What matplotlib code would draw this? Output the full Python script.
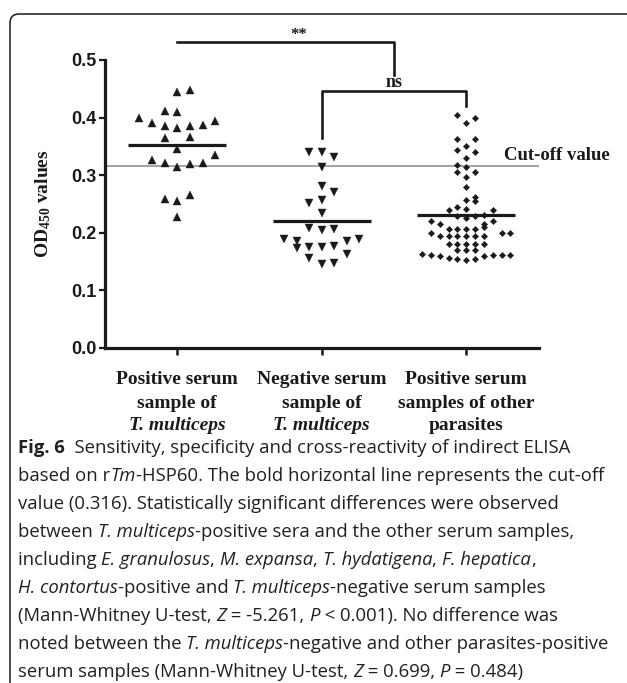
import numpy as np
import matplotlib
matplotlib.use('Agg')
import matplotlib.pyplot as plt
from matplotlib.patches import FancyBboxPatch
from matplotlib.transforms import blended_transform_factory, IdentityTransform

plt.rcParams['mathtext.fontset'] = 'custom'
plt.rcParams['mathtext.rm'] = 'Liberation Serif:bold'
plt.rcParams['mathtext.bf'] = 'Liberation Serif:bold'
plt.rcParams['mathtext.it'] = 'Liberation Serif:bold:italic'

# ---------------- data ----------------
cat_lines = [["Positive serum", "sample of", "T. multiceps"],
             ["Negative serum", "sample of", "T. multiceps"],
             ["Positive serum", "samples of other", "parasites"]]
cat_italic_last = [True, True, False]

g1_values = [0.444, 0.448, 0.411, 0.409, 0.399, 0.390, 0.386, 0.382, 0.386, 0.387,
             0.394, 0.365, 0.367, 0.345, 0.326, 0.321, 0.314, 0.319, 0.322, 0.335,
             0.259, 0.256, 0.266, 0.227]
g1_cols = [0, 1, -1, 0, -3, -2, -1, 0, 1, 2, 3, -1, 1, 0, -2, -1, 0, 1, 2, 3, -1, 0, 1, 0]

g2_values = [0.341, 0.341, 0.332, 0.315, 0.281, 0.271, 0.252, 0.257, 0.235, 0.208,
             0.204, 0.206, 0.189, 0.185, 0.173, 0.176, 0.176, 0.177, 0.186, 0.190,
             0.164, 0.157, 0.146, 0.148]
g2_cols = [-1, 0, 1, 0, 0, 1, -1, 0, 0, -1, 0, 1, -3, -2, -2, -1, 0, 1, 2, 3, 2, -1, 0, 1]

g3_values = [0.405, 0.399, 0.390, 0.362, 0.362, 0.351, 0.343, 0.341, 0.329, 0.318,
             0.314, 0.306, 0.306, 0.297, 0.280, 0.257, 0.262, 0.255,
             0.240, 0.245, 0.242, 0.240,
             0.229, 0.225, 0.229, 0.231,
             0.220, 0.215, 0.215, 0.220,
             0.206, 0.206, 0.206, 0.206, 0.210,
             0.200, 0.200, 0.200,
             0.194, 0.194, 0.194, 0.194, 0.194, 0.194,
             0.181, 0.181, 0.181, 0.181, 0.181,
             0.171, 0.171, 0.171,
             0.163, 0.161, 0.159, 0.157, 0.154, 0.153, 0.154, 0.160, 0.161, 0.161, 0.161]
g3_cols = [-1, 1, 0, -1, 1, 0, -1, 1, 0, -1,
           0, -1, 1, 0, 0, 0, 1, 1,
           -2, -1, 0, 3,
           -1, 0, 1, 2,
           -4, -3, 2, 3,
           -2, -1, 0, 1, 2,
           -4, 4, 5,
           -3, -2, -1, 0, 1, 2,
           -2, -1, 0, 1, 2,
           -1, 0, 1,
           -5, -4, -3, -2, -1, 0, 1, 2, 3, 4, 5]

cutoff = 0.316
y_ticks = [0.0, 0.1, 0.2, 0.3, 0.4, 0.5]

caption = [
    [("Fig. 6", 'b'), ("  Sensitivity, specificity and cross-reactivity of indirect ELISA", 'r')],
    [("based on r", 'r'), ("Tm", 'i'), ("-HSP60. The bold horizontal line represents the cut-off", 'r')],
    [("value (0.316). Statistically significant differences were observed", 'r')],
    [("between ", 'r'), ("T. multiceps", 'i'), ("-positive sera and the other serum samples,", 'r')],
    [("including ", 'r'), ("E. granulosus", 'i'), (", ", 'r'), ("M. expansa", 'i'), (", ", 'r'),
     ("T. hydatigena", 'i'), (", ", 'r'), ("F. hepatica", 'i'), (",", 'r')],
    [("H. contortus", 'i'), ("-positive and ", 'r'), ("T. multiceps", 'i'), ("-negative serum samples", 'r')],
    [("(Mann-Whitney U-test, ", 'r'), ("Z", 'i'), (" = -5.261, ", 'r'), ("P", 'i'),
     (" < 0.001). No difference was", 'r')],
    [("noted between the ", 'r'), ("T. multiceps", 'i'), ("-negative and other parasites-positive", 'r')],
    [("serum samples (Mann-Whitney U-test, ", 'r'), ("Z", 'i'), (" = 0.699, ", 'r'), ("P", 'i'),
     (" = 0.484)", 'r')],
]

# ---------------- figure ----------------
W, H = 627, 683
fig = plt.figure(figsize=(W / 100, H / 100), dpi=100)
ax = fig.add_axes([105 / W, (H - 348) / H, (538.5 - 105) / W, (348 - 60) / H])

ink = '#1a1a1a'
groups = [(g1_values, g1_cols, '^', 6.2, 0.088),
          (g2_values, g2_cols, 'v', 6.2, 0.087),
          (g3_values, g3_cols, 'D', 3.2, 0.061)]
for i, (vals, cols, mk, ms, step) in enumerate(groups):
    xpos = (i + 1) + np.array(cols) * step
    ax.plot(xpos, vals, linestyle='none', marker=mk, markersize=ms,
            color=ink, markeredgewidth=0.3, clip_on=False, zorder=3)
    m = np.mean(vals)
    ax.plot([i + 1 - 0.34, i + 1 + 0.34], [m, m], color=ink, lw=2.3, zorder=4,
            solid_capstyle='butt')

ax.axhline(cutoff, xmin=0, xmax=1, color='#8a8a8a', lw=1.1, zorder=2)

ax.set_xlim(0.5, 3.5)
ax.set_ylim(0, 0.5)
ax.set_yticks(y_ticks)
ax.set_yticklabels([f"{v:.1f}" for v in y_ticks])
ax.set_xticks([1, 2, 3])
ax.set_xticklabels(['', '', ''])
for s in ['top', 'right']:
    ax.spines[s].set_visible(False)
for s in ['left', 'bottom']:
    ax.spines[s].set_linewidth(2.3)
    ax.spines[s].set_color(ink)
ax.tick_params(axis='y', direction='out', length=4, width=1.6, pad=2, colors=ink)
ax.tick_params(axis='x', direction='out', length=5, width=1.8, colors=ink)
for lab in ax.get_yticklabels():
    lab.set_fontfamily('Liberation Sans')
    lab.set_fontweight('bold')
    lab.set_fontsize(13)

# category labels
xt = blended_transform_factory(ax.transData, ax.transAxes)
offs = [32, 55, 78]
for i, lines in enumerate(cat_lines):
    for j, line in enumerate(lines):
        style = 'italic' if (j == 2 and cat_italic_last[i]) else 'normal'
        ax.annotate(line, xy=(i + 1, 0), xycoords=xt, xytext=(0, -offs[j]),
                    textcoords='offset pixels', ha='center', va='center',
                    fontfamily='Liberation Serif', fontweight='bold', fontstyle=style,
                    fontsize=14, color=ink, annotation_clip=False)

# significance brackets
ax.plot([1, 2.5, 2.5], [0.531, 0.531, 0.474], color=ink, lw=1.9, clip_on=False)
ax.plot([2, 2, 3, 3], [0.365, 0.446, 0.446, 0.420], color=ink, lw=1.9, clip_on=False)
ax.text(1.84, 0.530, '**', ha='center', va='bottom', fontfamily='Liberation Serif',
        fontweight='bold', fontsize=12, color=ink, clip_on=False)
ax.text(2.5, 0.446, 'ns', ha='center', va='bottom', fontfamily='Liberation Serif',
        fontweight='bold', fontsize=13, color=ink, clip_on=False)
ax.text(3.26, 0.319, 'Cut-off value', ha='left', va='bottom', fontfamily='Liberation Serif',
        fontweight='bold', fontsize=13.5, color=ink, clip_on=False)

# y label
fig.text(43 / W, 1 - 204 / H, 'OD$_{450}$ values', rotation=90, ha='center', va='center',
         fontfamily='Liberation Serif', fontweight='bold', fontsize=14, color=ink)

# border
box = FancyBboxPatch((10, -40), 700, H - 14 + 40, boxstyle='round,pad=0,rounding_size=9',
                     transform=IdentityTransform(), fill=False, edgecolor=ink, lw=1.1)
fig.add_artist(box)

# caption
renderer = fig.canvas.get_renderer()
cap_font = 'Open Sans'


def props_for(style, size):
    p = dict(fontfamily=cap_font, fontsize=size, color='#231f20')
    if style == 'b':
        p['fontweight'] = 'bold'
    if style == 'i':
        p['fontstyle'] = 'italic'
    return p


def run_width(s, props):
    t = fig.text(0, 0, '|' + s + '|', **props)
    w = t.get_window_extent(renderer).width
    t.remove()
    t2 = fig.text(0, 0, '||', **props)
    w2 = t2.get_window_extent(renderer).width
    t2.remove()
    return w - w2


base_size = 11.5
w_line2 = sum(run_width(s, props_for(st, base_size)) for s, st in caption[1])
cap_size = base_size * (584.0 / w_line2)

x0 = 18
for k, line in enumerate(caption):
    baseline = 453 + 28.0 * k
    x = x0
    for s, st in line:
        p = props_for(st, cap_size)
        fig.text(x / W, 1 - baseline / H, s, ha='left', va='baseline', **p)
        x += run_width(s, p)

fig.savefig('out.png', dpi=100)
